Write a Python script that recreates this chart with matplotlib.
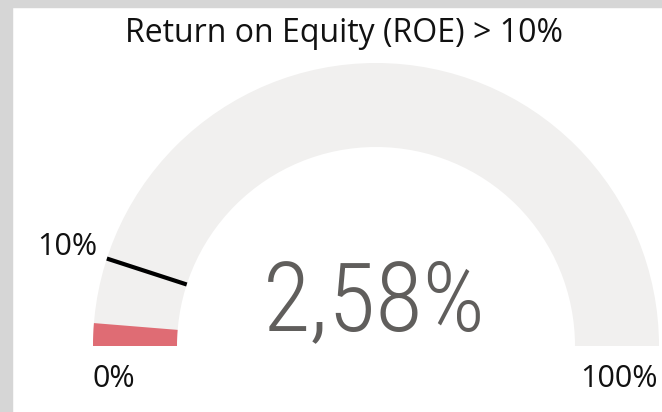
import matplotlib.pyplot as plt
from matplotlib.patches import Wedge, Rectangle
import numpy as np

# ---------------------------------------------------------------------
# Data
# ---------------------------------------------------------------------
title = "Return on Equity (ROE) > 10%"
gauge_min = 0
gauge_max = 100
value = 2.58
target = 10
value_label = "2,58%"
min_label = "0%"
max_label = "100%"
target_label = "10%"

# ---------------------------------------------------------------------
# Figure (axes in pixel units, y up)
# ---------------------------------------------------------------------
W, H = 662, 412
fig = plt.figure(figsize=(W / 100, H / 100), dpi=100)
ax = fig.add_axes([0, 0, 1, 1])
ax.set_xlim(0, W)
ax.set_ylim(0, H)
ax.axis("off")

# page border (report canvas)
fig.patches.append(Rectangle((0, 0), 12 / W, 1, transform=fig.transFigure,
                             color="#d6d6d6", zorder=0))
fig.patches.append(Rectangle((0, 1 - 7 / H), 1, 7 / H, transform=fig.transFigure,
                             color="#d6d6d6", zorder=0))

cx, cy = 376, H - 346
R_out, R_in = 283, 199


def angle(v):
    return 180 - 180 * (v - gauge_min) / (gauge_max - gauge_min)


# background arc
ax.add_patch(Wedge((cx, cy), R_out, 0, 180, width=R_out - R_in,
                   color="#f1f0ef", lw=0))
# value arc
ax.add_patch(Wedge((cx, cy), R_out, angle(value), 180, width=R_out - R_in,
                   color="#df6c74", lw=0))

# target line
a = np.deg2rad(angle(target))
ax.plot([cx + R_in * np.cos(a), cx + R_out * np.cos(a)],
        [cy + R_in * np.sin(a), cy + R_out * np.sin(a)],
        color="black", lw=3, solid_capstyle="butt")

# texts
label_font = ["Open Sans", "DejaVu Sans"]
ax.text(344, H - 42, title, ha="center", va="baseline", fontsize=23,
        family=label_font, color="#111111")
ax.text(97, H - 255, target_label, ha="right", va="baseline", fontsize=22,
        family=label_font, color="#111111")
ax.text(93, H - 387, min_label, ha="left", va="baseline", fontsize=22,
        family=label_font, color="#111111")
ax.text(658, H - 387, max_label, ha="right", va="baseline", fontsize=22,
        family=label_font, color="#111111")
ax.text(374, H - 330, value_label, ha="center", va="baseline", fontsize=70,
        family=["Roboto Condensed", "DejaVu Sans"], weight="light",
        color="#605e5c")

plt.savefig("out.png", dpi=100)
plt.close(fig)
